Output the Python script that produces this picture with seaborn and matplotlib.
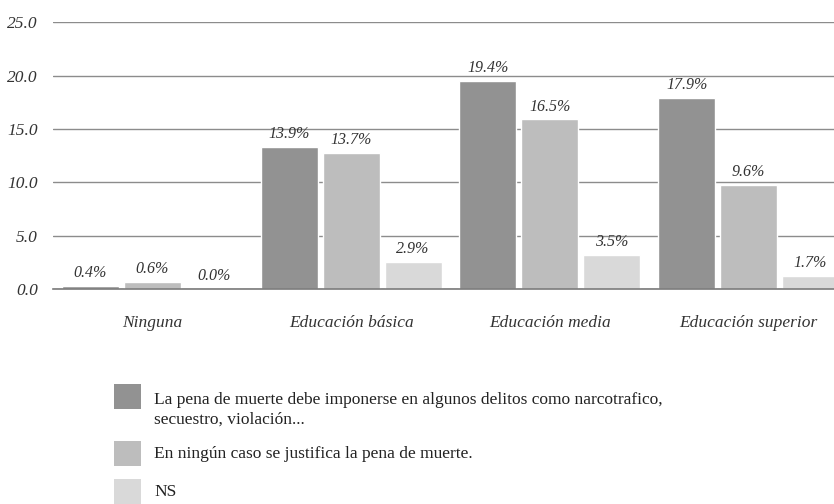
import pandas as pd
import matplotlib
matplotlib.use("Agg")
import matplotlib.pyplot as plt
from matplotlib.patches import Rectangle
import seaborn as sns

# Datos
categorias = ["Ninguna", "Educación básica", "Educación media", "Educación superior"]
series = [
    "La pena de muerte debe imponerse en algunos delitos como narcotrafico,\nsecuestro, violación...",
    "En ningún caso se justifica la pena de muerte.",
    "NS",
]
# altura de las barras (tal como se dibujan)
imponerse = [0.3, 13.3, 19.5, 17.9]
ningun_caso = [0.65, 12.75, 15.9, 9.75]
ns = [0.0, 2.5, 3.2, 1.2]
# etiquetas de valor
etiq_imponerse = ["0.4%", "13.9%", "19.4%", "17.9%"]
etiq_ningun_caso = ["0.6%", "13.7%", "16.5%", "9.6%"]
etiq_ns = ["0.0%", "2.9%", "3.5%", "1.7%"]

colores = ["#929292", "#bdbdbd", "#d9d9d9"]

df = pd.DataFrame({
    "nivel": categorias * 3,
    "valor": imponerse + ningun_caso + ns,
    "serie": [series[0]] * 4 + [series[1]] * 4 + [series[2]] * 4,
})

sns.set_style("white")
plt.rcParams["font.family"] = ["Liberation Serif", "DejaVu Serif"]

W, H = 834, 504
fig = plt.figure(figsize=(W / 100, H / 100), dpi=100)
# el área de trazado sobresale del lienzo por la derecha, como en el original
ax = fig.add_axes([53 / W, 215 / H, 795 / W, 266.7 / H])

sns.barplot(data=df, x="nivel", y="valor", hue="serie", palette=colores,
            saturation=1, width=0.935, gap=0.08, errorbar=None,
            legend=False, ax=ax)

ax.set_xlim(-0.5, 3.5)
ax.set_ylim(0, 25)
ax.set_yticks([0, 5, 10, 15, 20, 25])
ax.set_yticklabels([f"{v:.1f}" for v in [0, 5, 10, 15, 20, 25]],
                   fontstyle="italic", fontsize=12.5, color="#333333")
ax.set_xticks(range(len(categorias)))
ax.set_xticklabels(categorias, fontstyle="italic", fontsize=12.5, color="#333333")
ax.tick_params(axis="y", length=0, pad=11)
ax.tick_params(axis="x", length=0, pad=18.5)
ax.set_xlabel("")
ax.set_ylabel("")

ax.grid(axis="y", color="#8c8c8c", linewidth=1)
ax.set_axisbelow(True)
for s in ["top", "left", "right"]:
    ax.spines[s].set_visible(False)
ax.spines["bottom"].set_color("#7a7a7a")
ax.spines["bottom"].set_linewidth(1.2)

for cont, etiq in zip(ax.containers, [etiq_imponerse, etiq_ningun_caso, etiq_ns]):
    ax.bar_label(cont, labels=etiq, padding=3.5, fontstyle="italic",
                 fontsize=11.5, color="#333333")

# leyenda dibujada a mano (cuadros y texto)
tops = [384, 441, 479]
for color, etiqueta, top in zip(colores, series, tops):
    fig.add_artist(Rectangle((114 / W, 1 - (top + 25) / H), 27 / W, 25 / H,
                             transform=fig.transFigure, color=color, lw=0))
    if "\n" in etiqueta:
        fig.text(154 / W, 1 - 392 / H, etiqueta, ha="left", va="top",
                 fontsize=12.5, color="#222222", linespacing=1.3)
    else:
        fig.text(154 / W, 1 - (top + 12.5) / H, etiqueta, ha="left",
                 va="center", fontsize=12.5, color="#222222")

fig.savefig("out.png", dpi=100)
